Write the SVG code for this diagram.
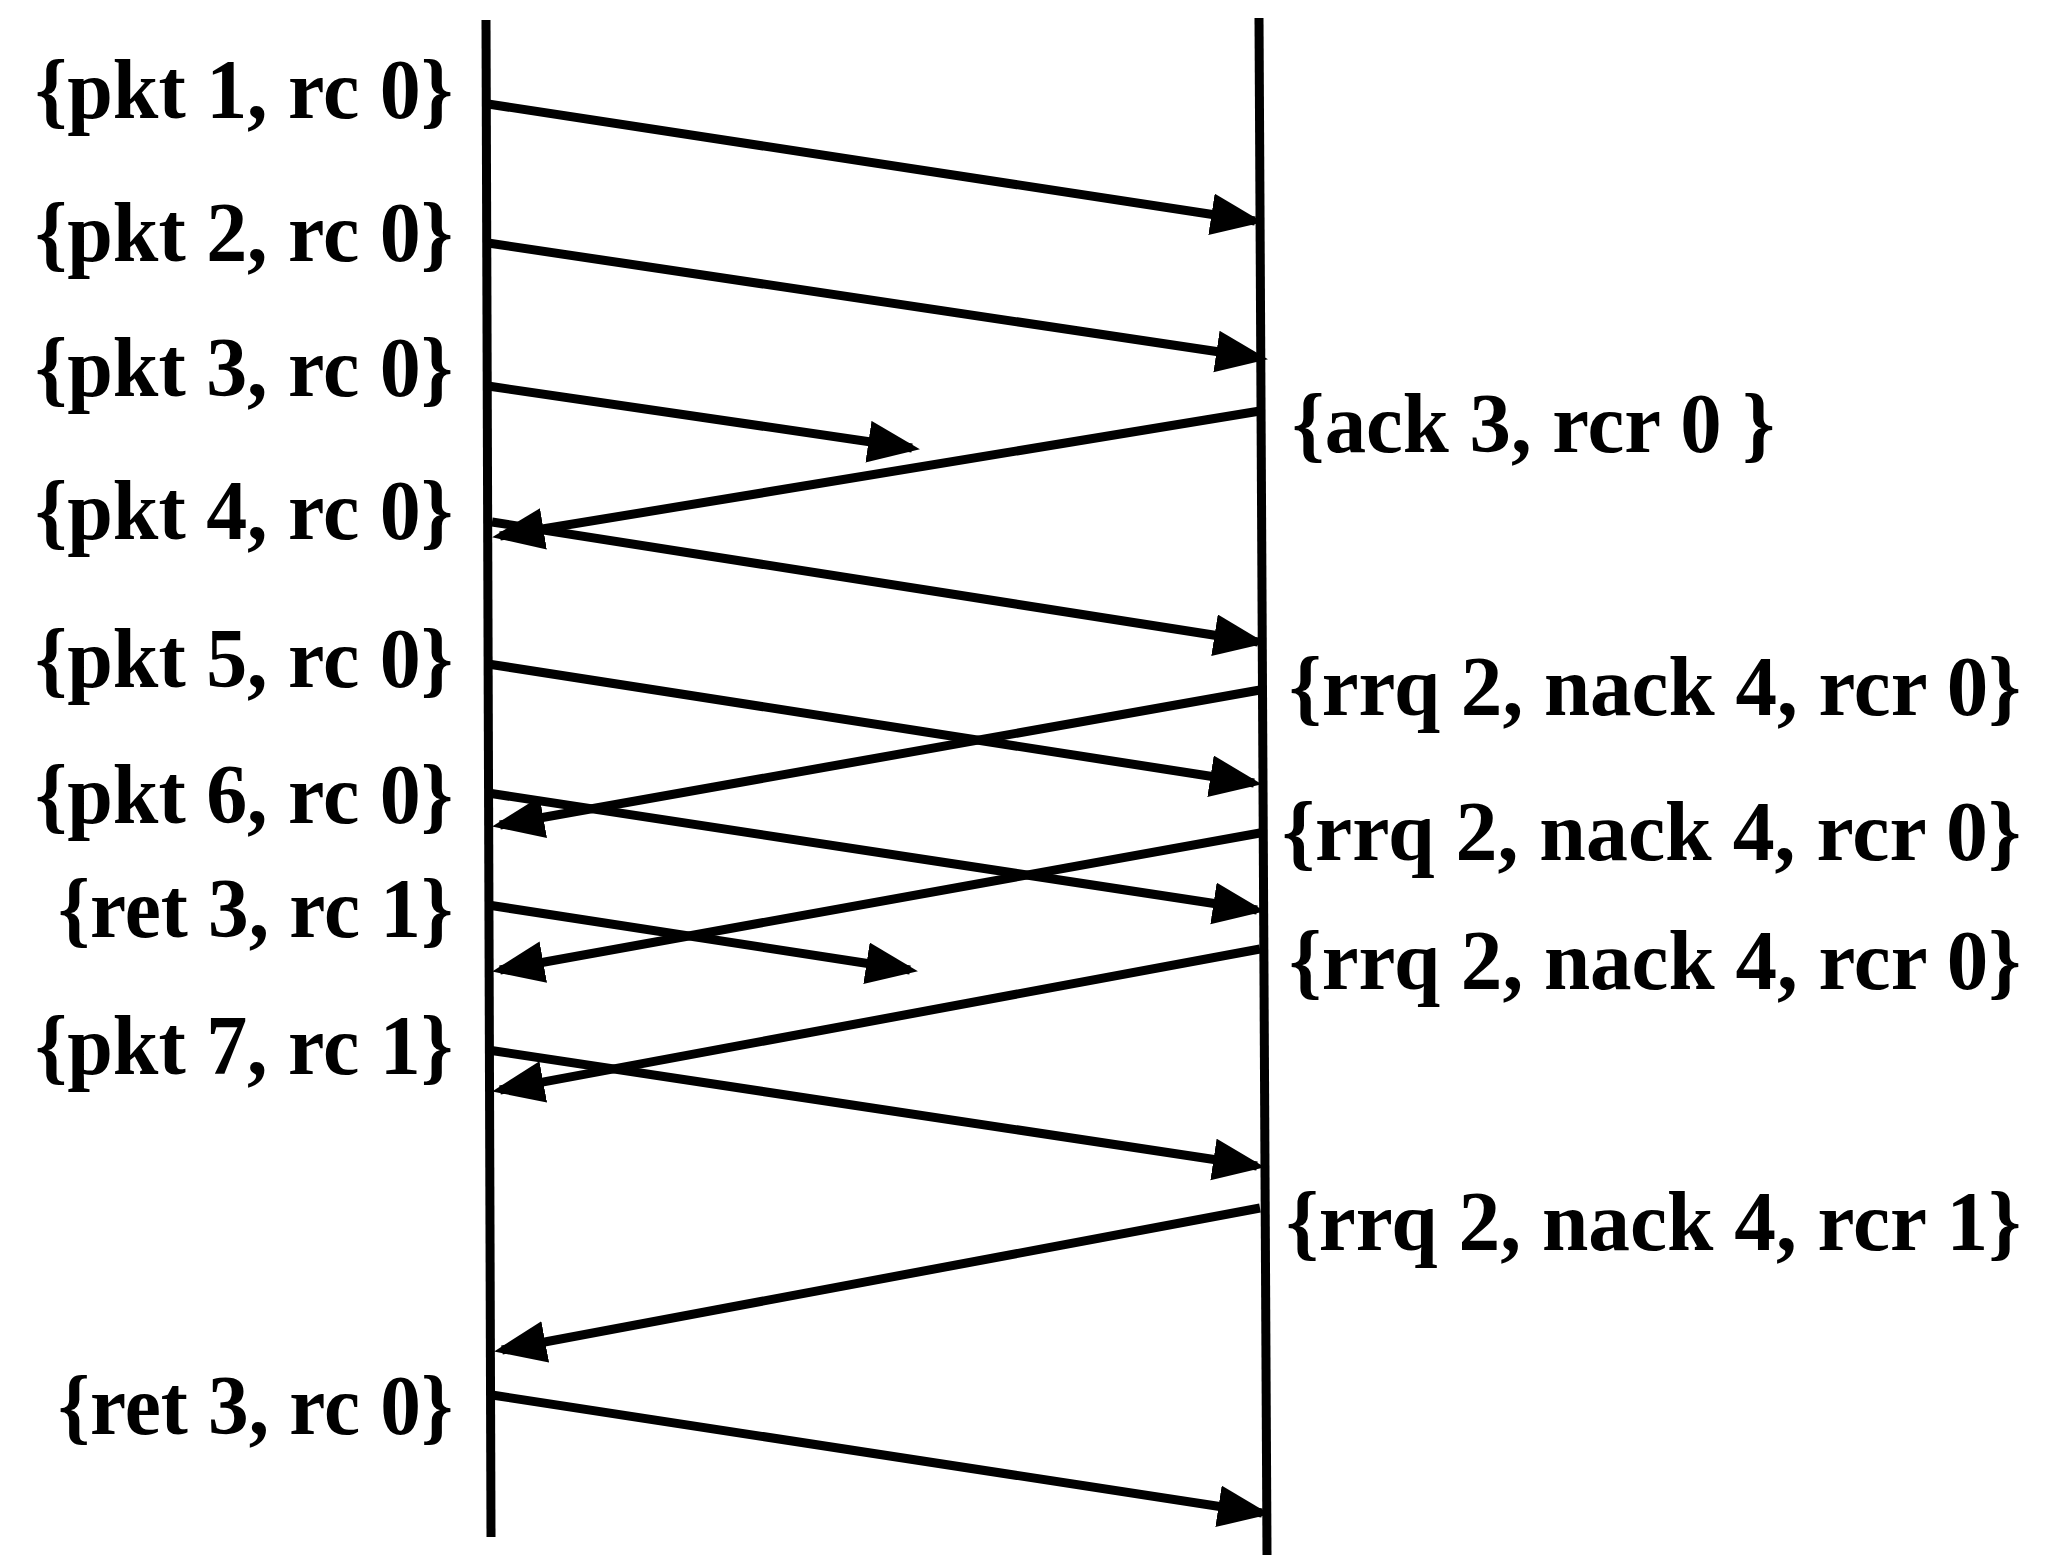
<svg xmlns="http://www.w3.org/2000/svg" width="2058" height="1555" viewBox="0 0 2058 1555">
<style>
.lbl{font-family:"Liberation Serif","Times New Roman",serif;font-weight:bold;font-size:84px;fill:#000}
.l{text-anchor:end}
.life{stroke:#000;stroke-width:9;fill:none}
.msg{stroke:#000;stroke-width:9;fill:none;marker-end:url(#ah)}
</style>
<defs>
<marker id="ah" markerUnits="userSpaceOnUse" markerWidth="56" markerHeight="46" refX="44" refY="21" orient="auto">
<path d="M0,0 L52,21 L0,42 Z" fill="#000"/>
</marker>
</defs>
<rect width="2058" height="1555" fill="#fff"/>
<g id="sender"><line class="life" x1="486" y1="20" x2="491" y2="1537"/></g>
<g id="receiver"><line class="life" x1="1259" y1="18" x2="1267" y2="1555"/></g>
<g id="connectors">
<line class="msg" x1="488" y1="104" x2="1255" y2="221"/>
<line class="msg" x1="488" y1="243" x2="1260" y2="358"/>
<line class="msg" x1="488" y1="386" x2="912" y2="448"/>
<line class="msg" x1="1260" y1="411" x2="500" y2="536"/>
<line class="msg" x1="492" y1="522" x2="1258" y2="642"/>
<line class="msg" x1="1260" y1="690" x2="500" y2="825"/>
<line class="msg" x1="488" y1="664" x2="1254" y2="783"/>
<line class="msg" x1="488" y1="793" x2="1257" y2="910"/>
<line class="msg" x1="1260" y1="833" x2="500" y2="970"/>
<line class="msg" x1="488" y1="905" x2="910" y2="970"/>
<line class="msg" x1="1260" y1="949" x2="500" y2="1090"/>
<line class="msg" x1="488" y1="1050" x2="1257" y2="1166"/>
<line class="msg" x1="1260" y1="1208" x2="502" y2="1350"/>
<line class="msg" x1="492" y1="1395" x2="1262" y2="1513"/>
</g>
<g id="left-labels">
<text class="lbl l" x="453" y="118" textLength="418" lengthAdjust="spacingAndGlyphs">{pkt 1, rc 0}</text>
<text class="lbl l" x="453" y="261" textLength="418" lengthAdjust="spacingAndGlyphs">{pkt 2, rc 0}</text>
<text class="lbl l" x="453" y="396" textLength="418" lengthAdjust="spacingAndGlyphs">{pkt 3, rc 0}</text>
<text class="lbl l" x="453" y="539" textLength="418" lengthAdjust="spacingAndGlyphs">{pkt 4, rc 0}</text>
<text class="lbl l" x="453" y="687" textLength="418" lengthAdjust="spacingAndGlyphs">{pkt 5, rc 0}</text>
<text class="lbl l" x="453" y="823" textLength="418" lengthAdjust="spacingAndGlyphs">{pkt 6, rc 0}</text>
<text class="lbl l" x="453" y="937" textLength="395" lengthAdjust="spacingAndGlyphs">{ret 3, rc 1}</text>
<text class="lbl l" x="453" y="1074" textLength="418" lengthAdjust="spacingAndGlyphs">{pkt 7, rc 1}</text>
<text class="lbl l" x="453" y="1434" textLength="395" lengthAdjust="spacingAndGlyphs">{ret 3, rc 0}</text>
</g>
<g id="right-labels">
<text class="lbl" x="1292" y="452" textLength="483" lengthAdjust="spacingAndGlyphs">{ack 3, rcr 0 }</text>
<text class="lbl" x="1289" y="715" textLength="732" lengthAdjust="spacingAndGlyphs">{rrq 2, nack 4, rcr 0}</text>
<text class="lbl" x="1282" y="860" textLength="739" lengthAdjust="spacingAndGlyphs">{rrq 2, nack 4, rcr 0}</text>
<text class="lbl" x="1289" y="989" textLength="732" lengthAdjust="spacingAndGlyphs">{rrq 2, nack 4, rcr 0}</text>
<text class="lbl" x="1286" y="1250" textLength="735" lengthAdjust="spacingAndGlyphs">{rrq 2, nack 4, rcr 1}</text>
</g>
</svg>
